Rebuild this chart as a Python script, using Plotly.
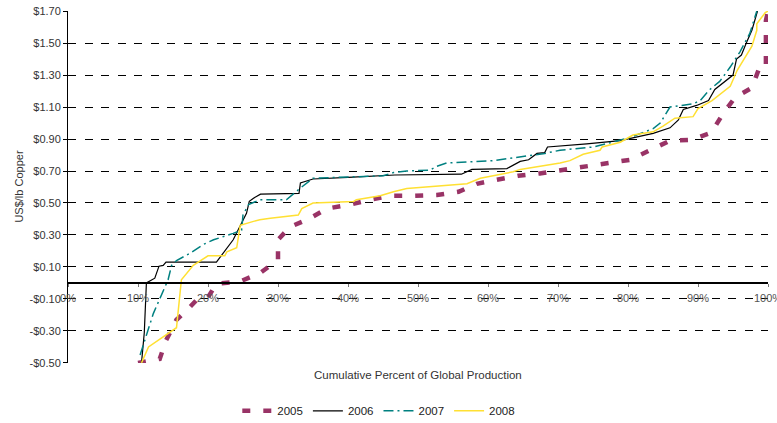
import plotly.graph_objects as go

# cumulative percent of global production (x) and cost US$/lb (y) per year
x_2005 = [10.0, 13.1, 14.0, 15.5, 17.0, 18.4, 20.0, 21.2, 24.6, 27.2, 27.4, 30.0, 30.0, 31.7, 34.6, 37.0, 40.3, 43.1,
          46.0, 49.3, 52.7, 55.8, 58.4, 61.2, 64.3, 67.4, 70.8, 74.1, 77.2, 80.3, 83.1, 86.0, 89.1, 91.9, 93.6, 95.3,
          97.7, 98.6, 98.8, 99.7, 99.7, 99.7, 100.0]
y_2005 = [-0.50, -0.475, -0.36, -0.23, -0.17, -0.105, -0.09, -0.005, 0.01, 0.05, 0.06, 0.145, 0.27, 0.35, 0.405, 0.465,
          0.49, 0.52, 0.545, 0.545, 0.55, 0.57, 0.62, 0.645, 0.67, 0.685, 0.71, 0.73, 0.75, 0.77, 0.83, 0.89, 0.895,
          0.94, 1.06, 1.16, 1.22, 1.34, 1.35, 1.35, 1.46, 1.64, 1.70]

x_2006 = [10.5, 10.9, 11.2, 12.4, 13.0, 13.6, 14.0, 21.2, 23.6, 25.5, 25.9, 26.5, 27.5, 33.0, 33.2, 35.0, 40.0, 46.7,
          56.2, 57.7, 62.7, 64.6, 65.8, 67.0, 68.1, 68.5, 74.1, 78.9, 83.6, 86.0, 87.2, 87.9, 89.8, 90.3, 91.5, 92.4,
          92.7, 93.6, 95.0, 95.5, 96.2, 96.9, 97.7, 98.5]
y_2006 = [-0.50, -0.31, 0.0, 0.03, 0.105, 0.11, 0.13, 0.13, 0.27, 0.435, 0.51, 0.53, 0.555, 0.56, 0.625, 0.65, 0.66,
          0.675, 0.68, 0.71, 0.715, 0.76, 0.77, 0.81, 0.815, 0.85, 0.87, 0.89, 0.935, 0.97, 1.02, 1.085, 1.11, 1.12,
          1.14, 1.21, 1.22, 1.25, 1.30, 1.40, 1.425, 1.50, 1.58, 1.70]

x_2007 = [10.3, 12.2, 14.3, 14.8, 15.5, 17.4, 19.3, 20.8, 23.6, 24.8, 25.0, 25.8, 27.4, 31.2, 33.1, 35.0, 45.0, 46.5,
          48.4, 51.7, 52.7, 54.1, 60.8, 64.6, 68.1, 70.3, 75.0, 80.3, 83.6, 84.6, 86.0, 89.3, 90.3, 91.7, 93.1, 94.6,
          96.0, 97.4, 98.4]
y_2007 = [-0.45, -0.19, 0.02, 0.11, 0.14, 0.185, 0.24, 0.27, 0.31, 0.33, 0.425, 0.49, 0.52, 0.52, 0.59, 0.655, 0.67,
          0.69, 0.70, 0.705, 0.73, 0.75, 0.765, 0.79, 0.81, 0.83, 0.85, 0.91, 0.965, 1.00, 1.10, 1.12, 1.14, 1.21,
          1.26, 1.35, 1.445, 1.56, 1.70]

x_2008 = [10.5, 11.5, 15.5, 16.2, 17.9, 20.0, 22.4, 22.7, 24.1, 24.6, 26.5, 27.4, 28.9, 32.9, 33.4, 35.0, 40.8, 41.2,
          44.6, 46.5, 48.4, 57.0, 58.9, 63.6, 64.6, 70.3, 71.7, 73.6, 76.0, 76.3, 78.9, 80.7, 83.6, 85.0, 86.7, 89.3,
          90.0, 92.0, 94.6, 95.6, 97.7, 98.4, 98.4, 99.6, 100.0]
y_2008 = [-0.50, -0.40, -0.28, 0.02, 0.11, 0.17, 0.17, 0.195, 0.22, 0.36, 0.385, 0.395, 0.405, 0.425, 0.465, 0.50,
          0.51, 0.52, 0.545, 0.57, 0.59, 0.62, 0.655, 0.695, 0.71, 0.75, 0.765, 0.805, 0.83, 0.85, 0.88, 0.925, 0.945,
          0.98, 1.03, 1.04, 1.09, 1.14, 1.23, 1.33, 1.48, 1.58, 1.62, 1.69, 1.70]

x_ticks = list(range(0, 101, 10))
x_labels = [str(v) + "%" for v in x_ticks]
y_ticks = [-0.5, -0.3, -0.1, 0.1, 0.3, 0.5, 0.7, 0.9, 1.1, 1.3, 1.5, 1.7]
y_labels = ["-$0.50", "-$0.30", "-$0.10", "$0.10", "$0.30", "$0.50", "$0.70", "$0.90", "$1.10", "$1.30", "$1.50", "$1.70"]

fnt = "Liberation Sans, Arial, sans-serif"

fig = go.Figure()
fig.add_trace(go.Scatter(x=x_2005, y=y_2005, mode="lines", name="2005",
                         line=dict(color="#993366", width=4.5, dash="8px,13px")))
fig.add_trace(go.Scatter(x=x_2006, y=y_2006, mode="lines", name="2006",
                         line=dict(color="#000000", width=1.2)))
fig.add_trace(go.Scatter(x=x_2007, y=y_2007, mode="lines", name="2007",
                         line=dict(color="#008080", width=1.5, dash="10px,4px,2px,4px")))
fig.add_trace(go.Scatter(x=x_2008, y=y_2008, mode="lines", name="2008",
                         line=dict(color="#FFE033", width=1.5)))

zero_pos = 0.5 / 2.2

fig.update_layout(
    width=777, height=423,
    margin=dict(l=68, r=9, t=11, b=60, autoexpand=False),
    plot_bgcolor="white", paper_bgcolor="white",
    font=dict(family=fnt, size=11, color="#333333"),
    showlegend=True,
    legend=dict(orientation="h", x=0.444, xanchor="center", y=-0.136, yanchor="middle",
                font=dict(size=11.5, color="#222222"), bgcolor="rgba(0,0,0,0)"),
    xaxis=dict(range=[0, 100], tickvals=x_ticks, ticktext=x_labels, automargin=False,
               ticklabeloverflow="allow", ticklabelstandoff=2,
               anchor="free", position=zero_pos, showline=True, linecolor="black", linewidth=1.5,
               ticks="outside", ticklen=3, tickcolor="#777777", showgrid=False, zeroline=False,
               tickfont=dict(size=11, color="#555555")),
    yaxis=dict(range=[-0.5005, 1.7005], tickvals=y_ticks, ticktext=y_labels, automargin=False,
               ticklabeloverflow="allow", showline=True,
               linecolor="black", linewidth=1, ticks="outside", ticklen=4, tickcolor="black",
               showgrid=True, gridcolor="black", gridwidth=1, griddash="8px,8.5px", zeroline=False,
               tickfont=dict(size=11, color="#333333")),
)

fig.add_annotation(text="US$/lb Copper", xref="paper", yref="paper", x=-0.082, y=0.5,
                   textangle=-90, showarrow=False, font=dict(size=11, color="#333333"))
fig.add_annotation(text="Cumulative Percent of Global Production", xref="paper", yref="paper",
                   x=0.5, y=-0.057, showarrow=False, font=dict(size=11.5, color="#333333"))

# drop the default 8px page margin so the figure fills the window
fig.write_html("out.html", config={"displayModeBar": False},
               post_script="document.body.style.margin='0';")
